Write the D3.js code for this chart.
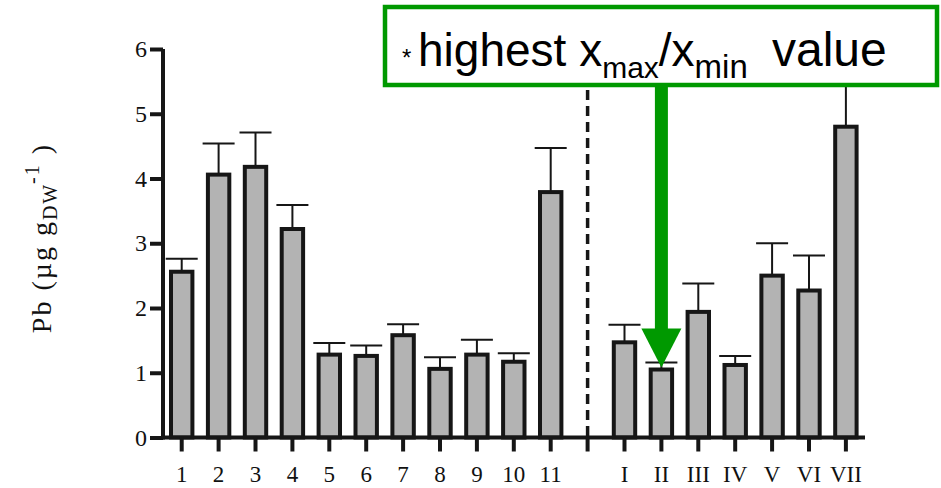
<!DOCTYPE html>
<html>
<head>
<meta charset="utf-8">
<script src="https://cdn.jsdelivr.net/npm/d3@7"></script>
<style>
  html, body { margin: 0; padding: 0; background: #fff; }
  svg { display: block; }
</style>
</head>
<body>
<div id="chart"></div>
<script>
// ---- data ----
const sitesA = ["1","2","3","4","5","6","7","8","9","10","11"];
const sitesB = ["I","II","III","IV","V","VI","VII"];
const separator = "sep";
const valuesA = [2.56, 4.06, 4.18, 3.22, 1.28, 1.26, 1.58, 1.06, 1.28, 1.17, 3.79];
const errorsA = [0.20, 0.48, 0.53, 0.37, 0.18, 0.16, 0.17, 0.18, 0.23, 0.13, 0.68];
const valuesB = [1.47, 1.05, 1.94, 1.12, 2.50, 2.27, 4.80];
const errorsB = [0.27, 0.11, 0.44, 0.14, 0.50, 0.54, 0.80];
const yTicks = [0, 1, 2, 3, 4, 5, 6];
const highlighted = "II";

// ---- layout ----
const W = 941, H = 488;
const svg = d3.select("#chart").append("svg").attr("width", W).attr("height", H);

const domain = [...sitesA, separator, ...sitesB];
const x = d3.scaleBand().domain(domain).range([163, 864.6]).paddingInner(0.42).paddingOuter(0.217);
const y = d3.scaleLinear().domain([0, 6]).range([437.5, 49]);

const data = [
  ...sitesA.map((k, i) => ({ k, v: valuesA[i], e: errorsA[i] })),
  ...sitesB.map((k, i) => ({ k, v: valuesB[i], e: errorsB[i] }))
];

const ink = "#161616";
const serif = "'Liberation Serif', 'Times New Roman', serif";
const cx = k => x(k) + x.bandwidth() / 2;

// error bars
const eb = svg.append("g");
eb.selectAll("line.v").data(data).join("line")
  .attr("x1", d => cx(d.k)).attr("x2", d => cx(d.k))
  .attr("y1", d => y(d.v)).attr("y2", d => y(d.v + d.e))
  .attr("stroke", ink).attr("stroke-width", 2);
eb.selectAll("line.c").data(data).join("line")
  .attr("x1", d => cx(d.k) - 16).attr("x2", d => cx(d.k) + 16)
  .attr("y1", d => y(d.v + d.e)).attr("y2", d => y(d.v + d.e))
  .attr("stroke", ink).attr("stroke-width", 2);

// bars
svg.append("g").selectAll("rect").data(data).join("rect")
  .attr("x", d => x(d.k)).attr("width", x.bandwidth())
  .attr("y", d => y(d.v)).attr("height", d => y(0) - y(d.v))
  .attr("fill", "#b3b3b3").attr("stroke", ink).attr("stroke-width", 4);

// dashed separator
svg.append("line")
  .attr("x1", cx(separator)).attr("x2", cx(separator))
  .attr("y1", 90).attr("y2", y(0))
  .attr("stroke", ink).attr("stroke-width", 3.5).attr("stroke-dasharray", "10,6");

// axes
const yAxis = svg.append("g").attr("transform", "translate(163,0)")
  .call(d3.axisLeft(y).tickValues(yTicks).tickFormat(d3.format("d")).tickSize(13).tickSizeOuter(0).tickPadding(3));
const xAxis = svg.append("g").attr("transform", `translate(0,${y(0)})`)
  .call(d3.axisBottom(x).tickFormat(d => d === separator ? "" : d).tickSize(14).tickSizeOuter(0).tickPadding(14.5));
[yAxis, xAxis].forEach(g => {
  g.select(".domain").attr("stroke", ink).attr("stroke-width", 4);
  g.selectAll(".tick line").attr("stroke", ink).attr("stroke-width", 4);
  g.selectAll("text").attr("fill", "#111").attr("font-family", serif).attr("font-size", 23);
});
yAxis.selectAll("text").attr("font-size", 24);
xAxis.select(".domain").attr("d", `M163,0H865`);
yAxis.select(".domain").attr("d", `M0,${y(6)}V${y(0) + 2}`);

// y title
const yt = svg.append("text")
  .attr("transform", "translate(51,238) rotate(-90)")
  .attr("text-anchor", "middle")
  .attr("font-family", serif)
  .attr("font-size", 28).attr("fill", "#111")
  .style("letter-spacing", "2px");
yt.append("tspan").text("Pb (µg g");
yt.append("tspan").attr("font-size", 20).attr("dy", 6).text("DW");
yt.append("tspan").attr("font-size", 20).attr("dy", -18).text("-1");
yt.append("tspan").attr("dy", 12).text(" )");

// annotation box
svg.append("rect").attr("x", 385).attr("y", 7).attr("width", 552).attr("height", 78)
  .attr("fill", "#fff").attr("stroke", "#009900").attr("stroke-width", 4.5);
const t = svg.append("text").attr("x", 402).attr("y", 66)
  .attr("font-family", "'Liberation Sans', Arial, sans-serif").attr("font-size", 46).attr("fill", "#000");
t.append("tspan").attr("font-size", 24).text("* ");
t.append("tspan").text("highest x");
t.append("tspan").attr("font-size", 30).attr("dy", 12).text("max");
t.append("tspan").attr("dy", -12).text("/x");
t.append("tspan").attr("font-size", 33).attr("dy", 12).text("min");
t.append("tspan").attr("dy", -12).attr("x", 772).attr("font-size", 48).text("value");

// arrow to highlighted bar
const hx = cx(highlighted);
const hv = valuesB[sitesB.indexOf(highlighted)];
const tipY = y(hv) - 2;
svg.append("rect").attr("x", hx - 6.5).attr("y", 87).attr("width", 13).attr("height", tipY - 39 - 87 + 1)
  .attr("fill", "#009900");
svg.append("path")
  .attr("d", `M${hx - 20},${tipY - 39}L${hx + 20},${tipY - 39}L${hx},${tipY}Z`)
  .attr("fill", "#009900");
</script>
</body>
</html>
